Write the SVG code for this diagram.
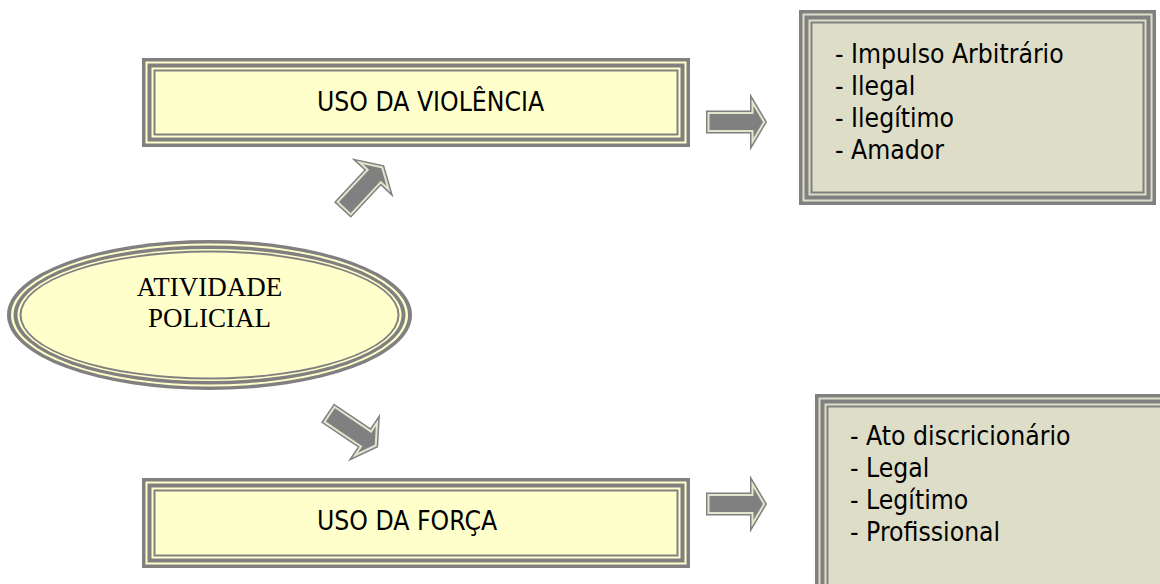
<svg xmlns="http://www.w3.org/2000/svg" width="1160" height="584" viewBox="0 0 1160 584">
<style>
.g{fill:#808080}
.py{fill:#FFFFCC}
.pb{fill:#DDDDC8}
.t{font-family:"DejaVu Sans",Verdana,sans-serif;font-size:26px;fill:#000}
.s{font-family:"Liberation Serif","Times New Roman",serif;font-size:27px;fill:#000}
.a1{fill:none;stroke:#808080;stroke-width:7;stroke-linejoin:miter}
.a2{fill:none;stroke:#E4E4CE;stroke-width:4;stroke-linejoin:miter}
.a3{fill:#808080}
</style>
<defs>
<path id="arr" d="M3.5,-8 H47.5 V-16 L57,0 L47.5,16 V8 H3.5 Z"/>
<g id="arrow">
<use href="#arr" class="a1"/>
<use href="#arr" class="a2"/>
<use href="#arr" class="a3"/>
</g>
</defs>
<rect width="1160" height="584" fill="#fff"/>

<g id="uso-violencia">
<rect class="g" x="142" y="58" width="548" height="89"/>
<rect class="py" x="145.5" y="61.5" width="541" height="82"/>
<rect class="g" x="147.5" y="63.5" width="537" height="78"/>
<rect class="py" x="151.5" y="67.5" width="529" height="70"/>
<rect class="g" x="153.5" y="69.5" width="525" height="66"/>
<rect class="py" x="155.5" y="71.5" width="521" height="62"/>
<text class="t" transform="translate(317,111) scale(0.91,1)">USO DA VIOLÊNCIA</text>
</g>

<g id="uso-forca">
<rect class="g" x="142" y="478" width="548" height="90"/>
<rect class="py" x="145.5" y="481.5" width="541" height="83"/>
<rect class="g" x="147.5" y="483.5" width="537" height="79"/>
<rect class="py" x="151.5" y="487.5" width="529" height="71"/>
<rect class="g" x="153.5" y="489.5" width="525" height="67"/>
<rect class="py" x="155.5" y="491.5" width="521" height="63"/>
<text class="t" transform="translate(317,530) scale(0.91,1)">USO DA FORÇA</text>
</g>

<g id="violencia-lista">
<rect class="g" x="799" y="10" width="357" height="195"/>
<rect class="pb" x="802.5" y="13.5" width="350" height="188"/>
<rect class="g" x="804.5" y="15.5" width="346" height="184"/>
<rect class="pb" x="808.5" y="19.5" width="338" height="176"/>
<rect class="g" x="810.5" y="21.5" width="334" height="172"/>
<rect class="pb" x="812.5" y="23.5" width="330" height="168"/>
<text class="t" transform="translate(835,63) scale(0.91,1)"><tspan x="0" y="0">- Impulso Arbitrário</tspan><tspan x="0" y="32">- Ilegal</tspan><tspan x="0" y="64">- Ilegítimo</tspan><tspan x="0" y="96">- Amador</tspan></text>
</g>

<g id="forca-lista">
<rect class="g" x="815" y="394" width="360" height="210"/>
<rect class="pb" x="818.5" y="397.5" width="353" height="203"/>
<rect class="g" x="820.5" y="399.5" width="349" height="199"/>
<rect class="pb" x="824.5" y="403.5" width="341" height="191"/>
<rect class="g" x="826.5" y="405.5" width="337" height="187"/>
<rect class="pb" x="828.5" y="407.5" width="333" height="183"/>
<text class="t" transform="translate(850,445) scale(0.91,1)"><tspan x="0" y="0">- Ato discricionário</tspan><tspan x="0" y="32">- Legal</tspan><tspan x="0" y="64">- Legítimo</tspan><tspan x="0" y="96">- Profissional</tspan></text>
</g>

<g id="atividade-policial">
<ellipse class="g" cx="209.5" cy="315" rx="202.5" ry="75"/>
<ellipse class="py" cx="209.5" cy="315" rx="198.5" ry="71.5"/>
<ellipse class="g" cx="209.5" cy="315" rx="196" ry="69.5"/>
<ellipse class="py" cx="209.5" cy="315" rx="192" ry="66"/>
<ellipse class="g" cx="209.5" cy="315" rx="190" ry="64.5"/>
<ellipse class="py" cx="209.5" cy="315" rx="188" ry="62.5"/>
<text class="s" x="209.5" y="296" text-anchor="middle">ATIVIDADE</text>
<text class="s" x="209.5" y="327" text-anchor="middle">POLICIAL</text>
</g>

<g id="connectors">
<use href="#arrow" transform="translate(342.5,210) rotate(-47)"/>
<use href="#arrow" transform="translate(327.5,413) rotate(34)"/>
<use href="#arrow" transform="translate(706,122)"/>
<use href="#arrow" transform="translate(706,504)"/>
</g>
</svg>
